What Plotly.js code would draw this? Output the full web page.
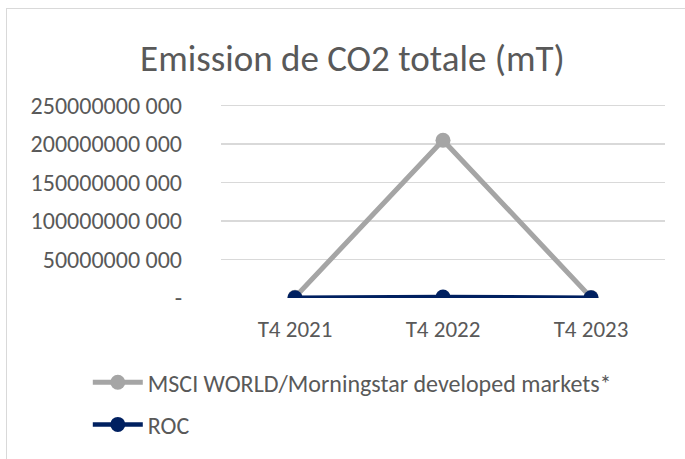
<!DOCTYPE html>
<html>
<head>
<meta charset="utf-8">
<script src="https://cdn.plot.ly/plotly-3.0.1.min.js"></script>
<style>
  html, body { margin: 0; padding: 0; background: #ffffff; }
  #wrap { position: relative; width: 685px; height: 459px; overflow: hidden; }
  #frame { position: absolute; left: 6px; top: 8px; width: 700px; height: 470px;
           border-left: 1px solid #d9d9d9; border-top: 1px solid #d9d9d9; pointer-events: none; }
  #chart { position: absolute; left: 0; top: 0; width: 685px; height: 459px; }
</style>
</head>
<body>
<div id="wrap">
  <div id="chart"></div>
  <div id="frame"></div>
</div>
<script>
const categories = ["T4 2021", "T4 2022", "T4 2023"];
const msciValues = [1.0e9, 205e9, 0.8e9];
const rocValues = [0.3e9, 1.2e9, 0.4e9];
const yTickVals = [0, 50e9, 100e9, 150e9, 200e9, 250e9];
const yTickText = ["-", "50000000 000", "100000000 000", "150000000 000", "200000000 000", "250000000 000"];
const seriesNames = ["MSCI WORLD/Morningstar developed markets*", "ROC"];

const FONT = "Carlito, Lato, 'Open Sans', sans-serif";
const TXT = "#595959";

const traces = [
  {
    x: categories, y: msciValues, name: seriesNames[0], type: "scatter", mode: "lines+markers",
    line: { color: "#a5a5a5", width: 5 },
    marker: { color: "#a5a5a5", size: 15 },
    legendgroup: "a"
  },
  {
    x: categories, y: rocValues, name: seriesNames[1], type: "scatter", mode: "lines+markers",
    line: { color: "#002060", width: 4.5 },
    marker: { color: "#002060", size: 15 },
    legendgroup: "b"
  }
];

const layout = {
  width: 685, height: 459,
  paper_bgcolor: "#ffffff", plot_bgcolor: "#ffffff",
  margin: { l: 221, r: 20, t: 104, b: 161, autoexpand: false },
  font: { family: FONT, color: TXT, size: 23 },
  title: { text: "Emission de CO2 totale (mT)", font: { family: FONT, size: 37, color: TXT },
           x: 0.296, xanchor: "center", y: 0.874, yanchor: "middle", xref: "paper", yref: "container" },
  xaxis: {
    type: "category", range: [-0.5, 2.5], showgrid: false, zeroline: false, showline: false,
    automargin: false,
    ticks: "", tickfont: { family: FONT, size: 23, color: TXT }, ticklabelstandoff: 15
  },
  yaxis: {
    range: [0, 252e9], tickmode: "array", tickvals: yTickVals, ticktext: yTickText,
    showgrid: true, gridcolor: "#d9d9d9", gridwidth: 1.5, zeroline: false, showline: false,
    automargin: false,
    ticks: "", tickfont: { family: FONT, size: 24, color: TXT }, ticklabelstandoff: 38
  },
  showlegend: true,
  legend: {
    orientation: "v", x: -0.30, xanchor: "left", y: -0.32, yanchor: "top",
    font: { family: FONT, size: 24, color: TXT }, tracegroupgap: 8, itemwidth: 50,
    bgcolor: "rgba(0,0,0,0)"
  }
};

Plotly.newPlot("chart", traces, layout, { displayModeBar: false, staticPlot: true });
</script>
</body>
</html>
